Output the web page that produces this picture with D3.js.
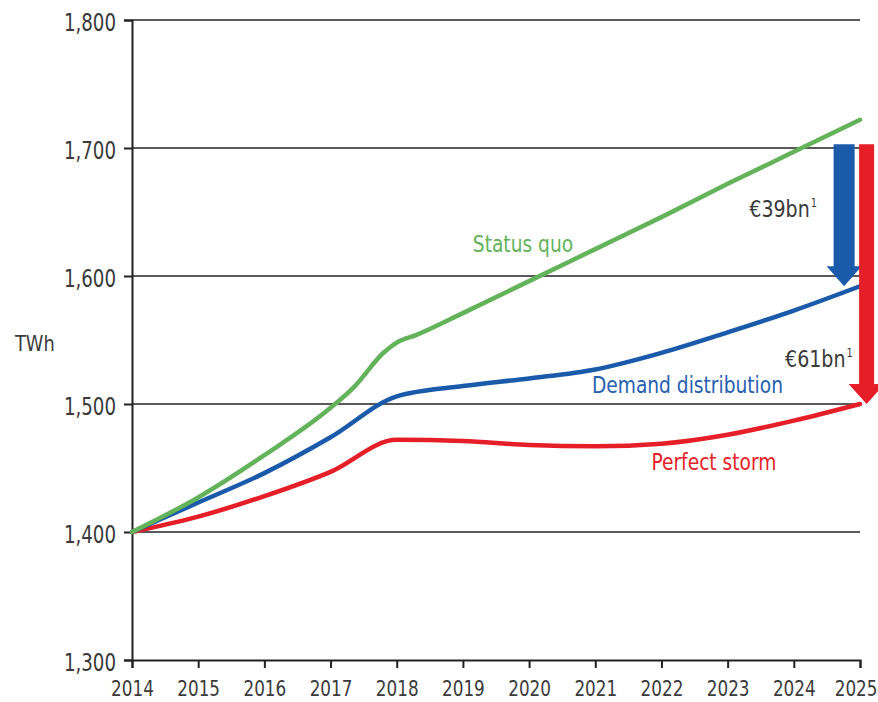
<!DOCTYPE html>
<html>
<head>
<meta charset="utf-8">
<script src="https://cdn.jsdelivr.net/npm/d3@7"></script>
<style>
  html, body { margin: 0; padding: 0; background: #fff; }
  svg { display: block; }
  text { font-family: "DejaVu Sans Condensed", "Liberation Sans Narrow", "Liberation Sans", sans-serif; }
</style>
</head>
<body>
<svg id="chart" width="878" height="702"></svg>
<script>
// ---- data ----
const years = [2014, 2015, 2016, 2017, 2018, 2019, 2020, 2021, 2022, 2023, 2024, 2025];
const statusQuoYears = [2014, 2015, 2016, 2017, 2017.35, 2017.8, 2018, 2018.3, 2019, 2020, 2021, 2022, 2023, 2024, 2025];
const statusQuo = [1400, 1427, 1460, 1497, 1513, 1540, 1548, 1554, 1571, 1596, 1621, 1646, 1672, 1697, 1722];
const demandDistribution = [1400, 1423, 1446, 1474, 1506, 1514, 1520, 1527, 1540, 1556, 1573, 1592];
const perfectStorm = [1400, 1412, 1428, 1447, 1472, 1471, 1468, 1467, 1469, 1476, 1487, 1500];
const seriesNames = ["Status quo", "Demand distribution", "Perfect storm"];
const yTicks = [1300, 1400, 1500, 1600, 1700, 1800];
const xTicks = years;
const arrowLabels = ["€39bn", "€61bn"];
const arrowFrom = [1703, 1703];
const arrowTo = [1592, 1500];
const arrowYear = [2024.76, 2025.1];
const unitLabel = "TWh";

// ---- layout ----
const margin = { top: 20, right: 18, bottom: 42, left: 132 };
const W = 878, H = 702;
const svg = d3.select("#chart");
const x = d3.scaleLinear().domain([2014, 2025]).range([margin.left, W - margin.right]);
const y = d3.scaleLinear().domain([1300, 1800]).range([H - margin.bottom, margin.top]);

const colors = { green: "#63b35a", blue: "#1a5aab", red: "#e61e27", text: "#3a3a3a" };

// gridlines
svg.append("g")
  .selectAll("line")
  .data(yTicks.filter(d => d > 1300))
  .join("line")
  .attr("x1", x(2014)).attr("x2", x(2025))
  .attr("y1", d => y(d)).attr("y2", d => y(d))
  .attr("stroke", "#222").attr("stroke-width", 1.5);

// y axis
const ySx = 0.81;
const yAxis = svg.append("g")
  .attr("transform", `translate(${margin.left},0)`)
  .call(d3.axisLeft(y).tickValues(yTicks).tickSize(8).tickPadding(8).tickFormat(d3.format(",")));
yAxis.select(".domain").attr("stroke", "#222").attr("stroke-width", 2);
yAxis.selectAll(".tick line").attr("stroke", "#222").attr("stroke-width", 2);
yAxis.selectAll(".tick text").attr("font-size", 25).attr("fill", colors.text)
  .attr("x", -16 / ySx).attr("dy", "0.4em")
  .attr("transform", `scale(${ySx},1)`);

// x axis
const xSx = 0.85;
const xAxis = svg.append("g")
  .attr("transform", `translate(0,${H - margin.bottom})`)
  .call(d3.axisBottom(x).tickValues(xTicks).tickSize(8).tickPadding(12).tickFormat(d3.format("d")));
xAxis.select(".domain").attr("stroke", "#222").attr("stroke-width", 2);
xAxis.selectAll(".tick line").attr("stroke", "#222").attr("stroke-width", 2);
xAxis.selectAll(".tick text").attr("font-size", 22).attr("fill", colors.text)
  .attr("transform", `scale(${xSx},1)`);
// keep the last year label inside the picture
xAxis.selectAll(".tick text").filter(d => d === 2025)
  .attr("text-anchor", "end").attr("x", (W - 1 - x(2025)) / xSx);

// unit label
svg.append("text").attr("transform", "translate(15,351) scale(0.9,1)").text(unitLabel)
  .attr("font-size", 22).attr("fill", colors.text);

// lines
const line = d3.line().x(d => x(d[0])).y(d => y(d[1])).curve(d3.curveMonotoneX);
const series = [
  { pts: years.map((yr, i) => [yr, perfectStorm[i]]), color: colors.red },
  { pts: years.map((yr, i) => [yr, demandDistribution[i]]), color: colors.blue },
  { pts: statusQuoYears.map((yr, i) => [yr, statusQuo[i]]), color: colors.green }
];
svg.append("g").selectAll("path").data(series).join("path")
  .attr("d", d => line(d.pts))
  .attr("fill", "none")
  .attr("stroke", d => d.color)
  .attr("stroke-width", 4.5)
  .attr("stroke-linecap", "round")
  .attr("stroke-linejoin", "round");

// series labels
const lSx = 0.9;
const labelPos = [
  { name: seriesNames[0], yr: 2019.15, v: 1618.7, color: colors.green },
  { name: seriesNames[1], yr: 2020.95, v: 1508.6, color: "#2560b0" },
  { name: seriesNames[2], yr: 2021.85, v: 1448.4, color: colors.red }
];
svg.append("g").selectAll("text").data(labelPos).join("text")
  .attr("transform", d => `translate(${x(d.yr)},${y(d.v)}) scale(${lSx},1)`)
  .attr("fill", d => d.color)
  .attr("font-size", 23)
  .text(d => d.name);

// arrows
const arrowColors = [colors.blue, colors.red];
const shaftHalf = [10.5, 7.5];
const headHalf = [17.5, 18];
const headLen = [20, 20];
arrowYear.forEach((yr, i) => {
  const cx = x(yr), top = y(arrowFrom[i]), tip = y(arrowTo[i]);
  const hs = tip - headLen[i];
  const pts = [
    [cx - shaftHalf[i], top], [cx + shaftHalf[i], top], [cx + shaftHalf[i], hs],
    [cx + headHalf[i], hs], [cx, tip], [cx - headHalf[i], hs], [cx - shaftHalf[i], hs]
  ];
  svg.append("polygon").attr("points", pts.map(p => p.join(",")).join(" "))
    .attr("fill", arrowColors[i]);
});

// arrow labels
const aSx = 0.92;
const arrowLabelPos = [
  { yr: 2024.35, v: 1646 },
  { yr: 2024.89, v: 1529 }
];
arrowLabelPos.forEach((p, i) => {
  const t = svg.append("text")
    .attr("transform", `translate(${x(p.yr)},${y(p.v)}) scale(${aSx},1)`)
    .attr("text-anchor", "end").attr("font-size", 23).attr("fill", colors.text);
  t.append("tspan").text(arrowLabels[i]);
  t.append("tspan").attr("font-size", 12).attr("dy", -10).attr("dx", 1).text("1");
});
</script>
</body>
</html>
